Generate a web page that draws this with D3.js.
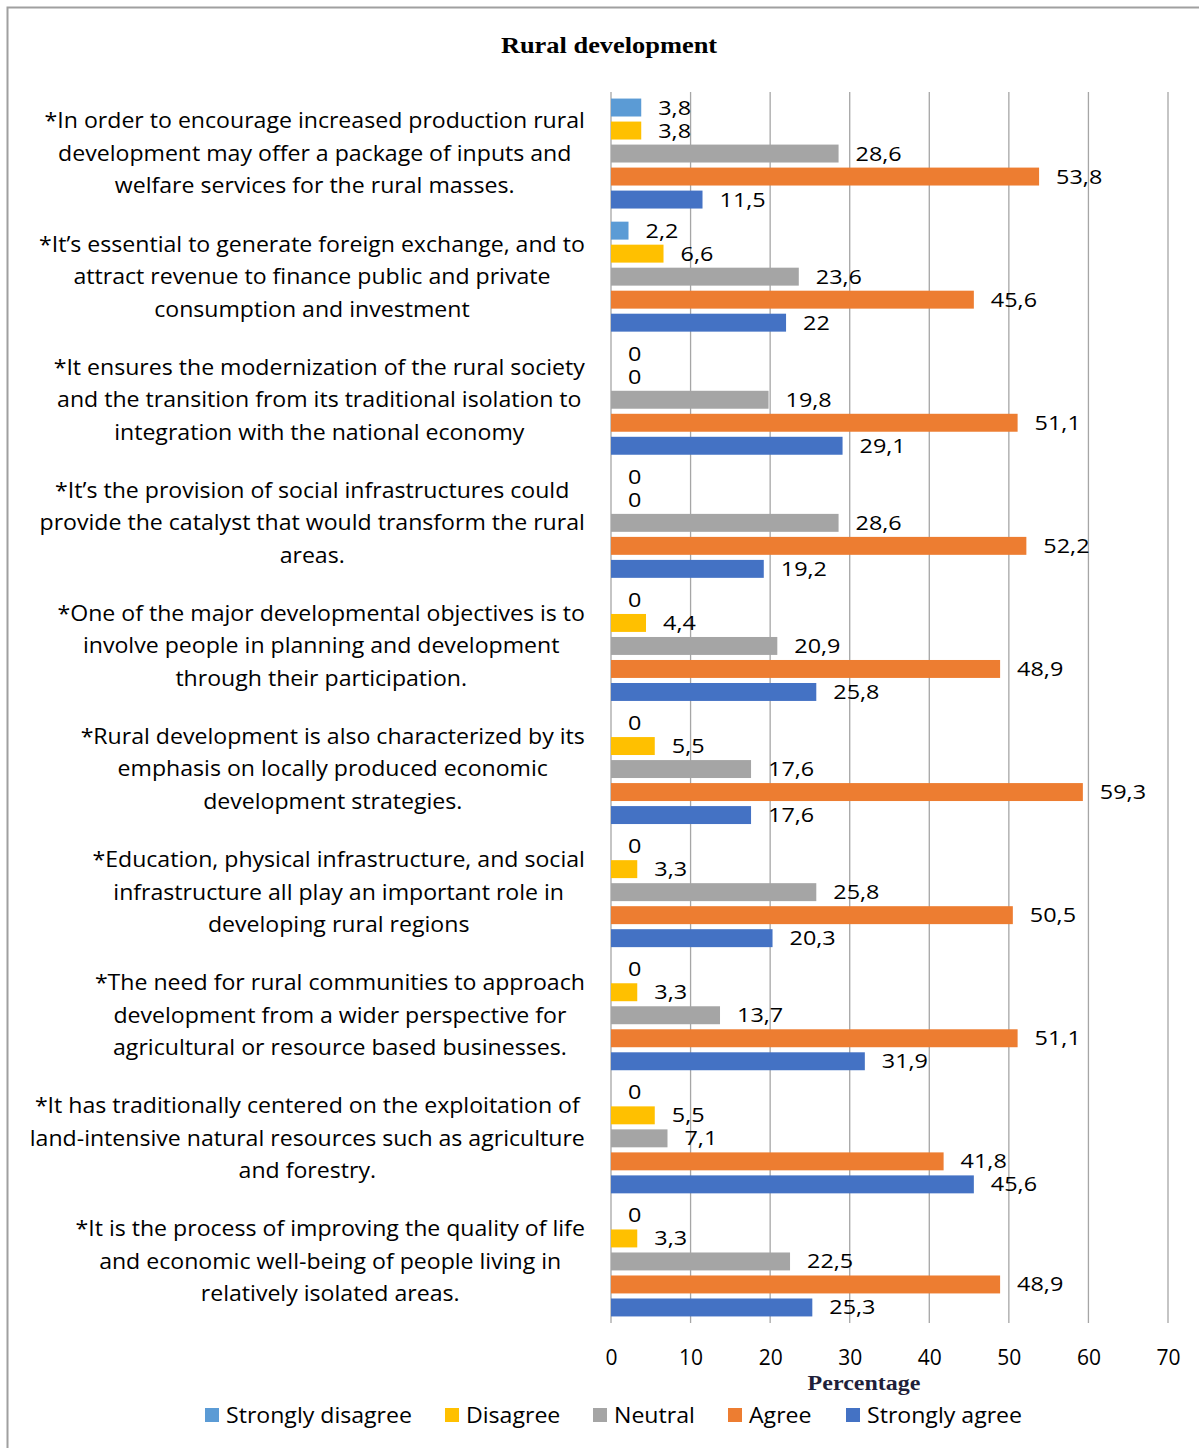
<!DOCTYPE html>
<html>
<head>
<meta charset="utf-8">
<script src="https://cdn.jsdelivr.net/npm/d3@7"></script>
<style>
  html, body { margin: 0; padding: 0; background: #fff; }
  svg { display: block; }
</style>
</head>
<body>
<svg id="chart" width="1199" height="1448"></svg>
<script>
const title = "Rural development";
const xAxisTitle = "Percentage";
const seriesNames = ["Strongly disagree", "Disagree", "Neutral", "Agree", "Strongly agree"];
const seriesColors = ["#5B9BD5", "#FFC000", "#A5A5A5", "#ED7D31", "#4472C4"];
const categoryLines = [
  ["*In order to encourage increased production rural", "development may offer a package of inputs and", "welfare services for the rural masses."],
  ["*It\u2019s essential to generate foreign exchange, and to", "attract revenue to finance public and private", "consumption and investment"],
  ["*It ensures the modernization of the rural society", "and the transition from its traditional isolation to", "integration with the national economy"],
  ["*It\u2019s the provision of social infrastructures could", "provide the catalyst that would transform the rural", "areas."],
  ["*One of the major developmental objectives is to", "involve people in planning and development", "through their participation."],
  ["*Rural development is also characterized by its", "emphasis on locally produced economic", "development strategies."],
  ["*Education, physical infrastructure, and social", "infrastructure all play an important role in", "developing rural regions"],
  ["*The need for rural communities to approach", "development from a wider perspective for", "agricultural or resource based businesses."],
  ["*It has traditionally centered on the exploitation of", "land-intensive natural resources such as agriculture", "and forestry."],
  ["*It is the process of improving the quality of life", "and economic well-being of people living in", "relatively isolated areas."]
];
const stronglyDisagree = [3.8, 2.2, 0, 0, 0, 0, 0, 0, 0, 0];
const disagree =         [3.8, 6.6, 0, 0, 4.4, 5.5, 3.3, 3.3, 5.5, 3.3];
const neutral =          [28.6, 23.6, 19.8, 28.6, 20.9, 17.6, 25.8, 13.7, 7.1, 22.5];
const agree =            [53.8, 45.6, 51.1, 52.2, 48.9, 59.3, 50.5, 51.1, 41.8, 48.9];
const stronglyAgree =    [11.5, 22, 29.1, 19.2, 25.8, 17.6, 20.3, 31.9, 45.6, 25.3];
const xTicks = [0, 10, 20, 30, 40, 50, 60, 70];

const seriesValues = [stronglyDisagree, disagree, neutral, agree, stronglyAgree];
const fontSans = "'Open Sans', 'DejaVu Sans', sans-serif";
const fontSerif = "'Liberation Serif', 'DejaVu Serif', serif";

(function draw() {
const svg = d3.select("#chart");
const place = (x, y, sx) => `translate(${x},${y}) scale(${sx},1)`;

// outer border
svg.append("rect").attr("x", 7.5).attr("y", 7.5).attr("width", 1220).attr("height", 1460)
  .attr("fill", "none").attr("stroke", "#a0a0a0").attr("stroke-width", 2);

const pLeft = 611, pRight = 1168, pTop = 92, pBottom = 1323;
const x = d3.scaleLinear().domain([0, 70]).range([pLeft, pRight]);
const y0 = d3.scaleBand().domain(d3.range(categoryLines.length)).range([pTop, pBottom]).paddingInner(0).paddingOuter(0);
const y1 = d3.scaleBand().domain(d3.range(seriesNames.length)).range([0, y0.bandwidth()]).paddingInner(0.22).paddingOuter(0.285);

// title
svg.append("text").attr("transform", place(609, 53, 1.1)).attr("text-anchor", "middle")
  .attr("font-family", fontSerif).attr("font-weight", "bold").attr("font-size", 24)
  .attr("fill", "#000").text(title);

// grid lines
const grid = svg.append("g");
grid.selectAll("line").data(xTicks).join("line")
  .attr("x1", d => x(d)).attr("x2", d => x(d))
  .attr("y1", pTop).attr("y2", pBottom)
  .attr("stroke", "#a6a6a6").attr("stroke-width", 1.3);

// bars
const groups = svg.append("g").selectAll("g").data(categoryLines).join("g")
  .attr("transform", (d, i) => `translate(0,${y0(i)})`);

groups.each(function(d, i) {
  const g = d3.select(this);
  const vals = seriesValues.map((arr, s) => ({ s, v: arr[i] }));
  g.selectAll("rect").data(vals).join("rect")
    .attr("x", x(0))
    .attr("y", e => y1(e.s))
    .attr("width", e => x(e.v) - x(0))
    .attr("height", y1.bandwidth())
    .attr("fill", e => seriesColors[e.s]);
  g.selectAll("text").data(vals).join("text")
    .attr("transform", e => place(x(e.v) + 17, y1(e.s) + y1.bandwidth() / 2, 1.17))
    .attr("dy", "0.35em")
    .attr("font-family", fontSans).attr("font-size", 20).attr("fill", "#000")
    .text(e => String(e.v).replace(".", ","));
});

// category labels (centered block, right-aligned at 585)
const labelRight = 585;
const lineH = 32.5;
const catSx = 1.1;
categoryLines.forEach((lines, i) => {
  const cy = y0(i) + y0.bandwidth() / 2;
  const g = svg.append("g");
  const texts = g.selectAll("text").data(lines).join("text")
    .attr("dy", "0.35em")
    .attr("text-anchor", "middle")
    .attr("font-family", fontSans).attr("font-size", 21).attr("fill", "#000")
    .text(d => d);
  let maxW = 0;
  texts.each(function() { maxW = Math.max(maxW, this.getComputedTextLength()); });
  const cx = labelRight - maxW * catSx / 2;
  texts.attr("transform", (d, k) => place(cx, cy + (k - (lines.length - 1) / 2) * lineH, catSx));
});

// x axis tick labels
const xAxis = d3.axisBottom(x).tickValues(xTicks).tickSize(0).tickPadding(0);
const ax = svg.append("g").attr("transform", `translate(0,1358)`).call(xAxis);
ax.select(".domain").remove();
ax.selectAll("text").attr("dy", "0.35em").attr("font-family", fontSans).attr("font-size", 21).attr("fill", "#000");

// x axis title
svg.append("text").attr("transform", place(864, 1390, 1.2)).attr("text-anchor", "middle")
  .attr("font-family", fontSerif).attr("font-weight", "bold").attr("font-size", 20)
  .attr("fill", "#1f1f3a").text(xAxisTitle);

// legend
const legendX = [205, 445, 593, 728, 846];
const legend = svg.append("g").selectAll("g").data(seriesNames).join("g")
  .attr("transform", (d, i) => `translate(${legendX[i]},1415)`);
legend.append("rect").attr("x", 0).attr("y", -7).attr("width", 14).attr("height", 14)
  .attr("fill", (d, i) => seriesColors[i]);
legend.append("text").attr("transform", place(21, 1, 1.1)).attr("dy", "0.35em")
  .attr("font-family", fontSans).attr("font-size", 21).attr("fill", "#000")
  .text(d => d);
})();
</script>
</body>
</html>
